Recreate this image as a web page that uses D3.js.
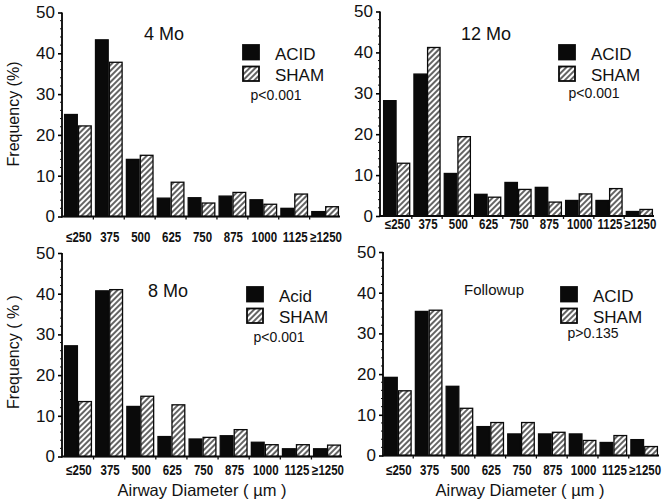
<!DOCTYPE html>
<html>
<head>
<meta charset="utf-8">
<script src="https://cdn.jsdelivr.net/npm/d3@7"></script>
<style>
  body { margin: 0; background: #fff; }
  svg { display: block; font-family: "Liberation Sans", Arial, Helvetica, sans-serif; }
</style>
</head>
<body>
<svg width="662" height="503"></svg>
<script>
// airway diameter bins
const categories = ["≤250", "375", "500", "625", "750", "875", "1000", "1125", "≥1250"];
const groups = ["ACID", "SHAM"];
const yTicks = [0, 10, 20, 30, 40, 50];

// frequency (%) per panel
const acid4 = [25.0, 43.3, 14.0, 4.5, 4.6, 5.0, 4.1, 2.0, 1.2];
const sham4 = [22.2, 37.8, 15.0, 8.4, 3.3, 5.9, 3.0, 5.5, 2.4];
const acid12 = [28.2, 34.7, 10.4, 5.3, 8.2, 7.0, 3.8, 3.8, 1.1];
const sham12 = [12.9, 41.2, 19.4, 4.6, 6.5, 3.4, 5.4, 6.7, 1.6];
const acid8 = [27.2, 40.7, 12.3, 4.9, 4.3, 5.1, 3.5, 1.9, 1.9];
const sham8 = [13.5, 41.0, 14.8, 12.7, 4.7, 6.6, 2.9, 2.9, 2.8];
const acidFU = [19.2, 35.4, 17.0, 7.1, 5.3, 5.3, 5.3, 3.2, 3.9];
const shamFU = [15.9, 35.7, 11.6, 8.1, 8.1, 5.7, 3.7, 4.9, 2.2];

const titles = ["4 Mo", "12 Mo", "8 Mo", "Followup"];
const acidLabels = ["ACID", "ACID", "Acid", "ACID"];
const pValues = ["p<0.001", "p<0.001", "p<0.001", "p>0.135"];
const yLabels = ["Frequency (%)", null, "Frequency ( % )", null];
const xLabels = [null, null, "Airway Diameter ( µm )", "Airway Diameter ( µm )"];

// layout of the 4 panels (pixel placement only)
const panels = [
  {axisX: 62, y0: 216.5, y50: 12.5, xr: [64, 339], labDy: 25, titleX: 164, titleY: 40, titleSize: 18, legX: 243, legY: 45, pX: 276, pY: 100, ylabX: 19, ylabY: 114},
  {axisX: 380, y0: 216, y50: 11.5, xr: [383, 653], labDy: 12.5, titleX: 486, titleY: 40, titleSize: 18, legX: 559, legY: 45, pX: 594, pY: 98},
  {axisX: 62, y0: 456.5, y50: 253, xr: [64, 341], labDy: 18.5, titleX: 168, titleY: 297, titleSize: 18, legX: 247, legY: 287, pX: 279, pY: 342, ylabX: 19, ylabY: 352, xlabX: 202, xlabY: 496},
  {axisX: 383, y0: 455.5, y50: 252, xr: [384, 658], labDy: 19.5, titleX: 494, titleY: 295, titleSize: 15, legX: 561, legY: 287, pX: 593, pY: 338, xlabX: 520, xlabY: 496}
];
const acidData = [acid4, acid12, acid8, acidFU];
const shamData = [sham4, sham12, sham8, shamFU];

const svg = d3.select("svg");

// hatch for SHAM
svg.append("defs").append("pattern")
    .attr("id", "hatch")
    .attr("patternUnits", "userSpaceOnUse")
    .attr("width", 4)
    .attr("height", 4)
    .attr("patternTransform", "rotate(45)")
  .call(p => {
    p.append("rect").attr("width", 4).attr("height", 4).attr("fill", "#fff");
    p.append("line").attr("x1", 1).attr("y1", 0).attr("x2", 1).attr("y2", 4)
      .attr("stroke", "#111").attr("stroke-width", 1.3);
  });

const fillFor = g => g === "ACID" ? "#0a0a0a" : "url(#hatch)";

panels.forEach((pn, i) => {
  const g = svg.append("g");

  const x = d3.scaleBand().domain(categories).range(pn.xr).paddingInner(0.1).paddingOuter(0);
  const xs = d3.scaleBand().domain(groups).range([0, x.bandwidth()]);
  const y = d3.scaleLinear().domain([0, 50]).range([pn.y0, pn.y50]);

  const rows = categories.map((c, k) => ({cat: c, ACID: acidData[i][k], SHAM: shamData[i][k]}));

  // bars
  g.selectAll("g.bin")
    .data(rows)
    .join("g")
    .attr("class", "bin")
    .attr("transform", d => `translate(${x(d.cat)},0)`)
    .selectAll("rect")
    .data(d => groups.map(k => ({key: k, value: d[k]})))
    .join("rect")
    .attr("x", d => xs(d.key) + 0.6)
    .attr("width", xs.bandwidth() - 1.2)
    .attr("y", d => y(d.value))
    .attr("height", d => y(0) - y(d.value))
    .attr("fill", d => fillFor(d.key))
    .attr("stroke", "#0a0a0a")
    .attr("stroke-width", 1.3);

  // y axis
  const yAxis = d3.axisLeft(y).tickValues(yTicks).tickSize(4).tickPadding(3);
  const ya = g.append("g")
    .attr("transform", `translate(${pn.axisX},0)`)
    .call(yAxis);
  ya.select(".domain").attr("stroke-width", 1.8).attr("d", `M0,${pn.y0 + 1}V${pn.y50}`);
  ya.selectAll(".tick line").attr("stroke-width", 1.6);
  ya.selectAll(".tick text").attr("font-size", 17).attr("font-family", "Liberation Sans, Arial, sans-serif").attr("fill", "#111");
  // minor ticks
  g.append("g").attr("transform", `translate(${pn.axisX},0)`)
    .selectAll("line")
    .data(d3.range(0, 51, 2).filter(v => v % 10 !== 0))
    .join("line")
    .attr("x1", -2).attr("x2", 0)
    .attr("y1", d => y(d)).attr("y2", d => y(d))
    .attr("stroke", "#111").attr("stroke-width", 1);

  // x axis
  const xEnd = pn.xr[1] + 1;
  g.append("line")
    .attr("x1", pn.axisX).attr("x2", xEnd)
    .attr("y1", pn.y0).attr("y2", pn.y0)
    .attr("stroke", "#0a0a0a").attr("stroke-width", 1.8);
  const gap = x.step() - x.bandwidth();
  g.append("g").selectAll("line")
    .data(categories.slice(1))
    .join("line")
    .attr("x1", d => x(d) - gap / 2).attr("x2", d => x(d) - gap / 2)
    .attr("y1", pn.y0).attr("y2", pn.y0 + 3)
    .attr("stroke", "#111").attr("stroke-width", 1.3);
  g.append("g").selectAll("text")
    .data(categories)
    .join("text")
    .attr("transform", d => `translate(${x(d) + x.bandwidth() / 2 + 1},${pn.y0 + pn.labDy}) scale(0.82,1)`)
    .attr("text-anchor", "middle")
    .attr("font-size", 14)
    .attr("font-weight", "bold")
    .attr("fill", "#111")
    .text(d => d);

  // title
  g.append("text")
    .attr("x", pn.titleX).attr("y", pn.titleY)
    .attr("text-anchor", "middle")
    .attr("font-size", pn.titleSize)
    .attr("fill", "#111")
    .text(titles[i]);

  // legend
  const leg = g.append("g").attr("transform", `translate(${pn.legX},${pn.legY})`);
  groups.forEach((k, j) => {
    leg.append("rect")
      .attr("x", 0).attr("y", j * 21.5)
      .attr("width", 16).attr("height", 14.5)
      .attr("fill", fillFor(k))
      .attr("stroke", "#0a0a0a").attr("stroke-width", 1.8);
    leg.append("text")
      .attr("x", 32).attr("y", j * 21.5 + 14.5)
      .attr("font-size", 17)
      .attr("fill", "#111")
      .text(k === "ACID" ? acidLabels[i] : "SHAM");
  });
  g.append("text")
    .attr("x", pn.pX).attr("y", pn.pY)
    .attr("text-anchor", "middle")
    .attr("font-size", 14)
    .attr("fill", "#111")
    .text(pValues[i]);

  // axis titles
  if (yLabels[i]) {
    g.append("text")
      .attr("transform", `translate(${pn.ylabX},${pn.ylabY}) rotate(-90)`)
      .attr("text-anchor", "middle")
      .attr("font-size", 16)
      .attr("fill", "#111")
      .text(yLabels[i]);
  }
  if (xLabels[i]) {
    g.append("text")
      .attr("x", pn.xlabX).attr("y", pn.xlabY)
      .attr("text-anchor", "middle")
      .attr("font-size", 16.5)
      .attr("fill", "#111")
      .text(xLabels[i]);
  }
});
</script>
</body>
</html>
